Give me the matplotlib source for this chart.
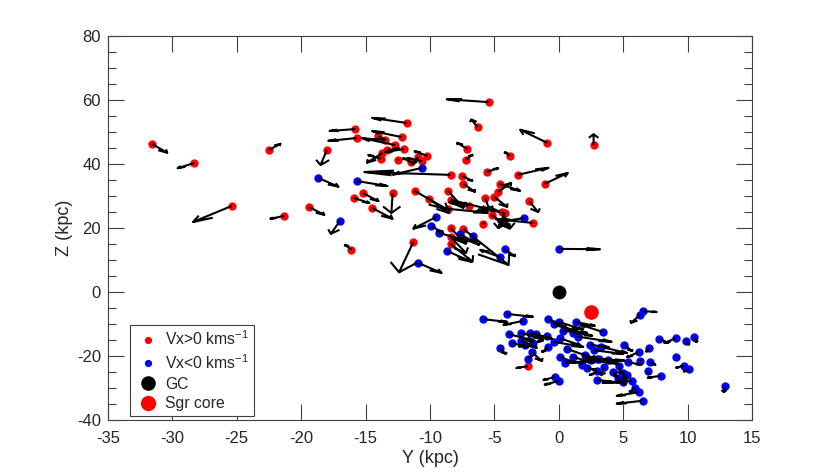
import numpy as np
import matplotlib
matplotlib.use("Agg")
import matplotlib.pyplot as plt
from matplotlib.lines import Line2D

plt.rcParams['font.family'] = ['Liberation Sans', 'DejaVu Sans']
plt.rcParams['mathtext.default'] = 'regular'
plt.rcParams['axes.unicode_minus'] = False

red_y = [-31.6,-28.3,-25.4,-22.5,-21.3,-19.4,-18.0,-16.1,-15.8,-15.7,-15.9,-15.2,-14.5,-12.9,-11.8,-12.2,-14.0,-13.5,-12.7,-12.0,-13.3,-13.7,-13.8,-12.5,-11.5,-10.9,-10.6,-10.2,-8.4,
         -5.4,-6.3,-7.1,-7.2,-3.8,-0.9,2.7,-5.6,-3.2,-1.1,-7.5,-7.4,-4.6,-4.7,-5.0,-5.7,-2.3,-2.0,-4.2,-4.4,-5.2,-5.9,-7.0,-8.6,-8.4,-8.6,-10.1,-11.2,-8.4,-7.4,-8.4,-8.4,-11.3,-2.4]
red_z = [46.2,40.2,26.8,44.3,23.7,26.5,44.3,13.1,50.8,48.0,29.3,30.8,26.2,30.8,52.7,48.3,48.6,47.4,45.8,44.6,44.2,43.3,41.5,41.1,40.5,42.1,40.8,42.4,36.5,
         59.2,51.4,44.6,41.2,42.4,46.5,45.8,37.4,36.5,33.7,36.2,33.7,33.7,31.2,29.6,29.3,28.3,21.5,24.6,25.0,24.0,21.2,26.8,31.5,28.7,25.9,29.0,31.5,19.9,19.6,17.1,15.0,15.5,-23.2]
red_u = [1.2,-1.3,-3.0,0.9,-1.1,1.2,-0.5,-0.5,-2.0,-2.2,1.2,1.2,1.6,-0.1,-2.7,-2.3,0.5,-0.8,-2.6,-1.5,0.9,-1.2,-1.0,0.05,-0.6,-0.5,-1.2,-1.0,-6.7,
         -3.3,-0.5,-0.8,0.5,-0.4,-2.1,0.0,0.9,2.4,1.8,0.8,0.9,1.6,1.0,1.0,0.3,0.7,-2.9,-0.5,0.6,1.4,0.1,-1.5,1.2,3.8,3.1,1.6,2.6,1.2,3.5,1.2,1.7,-1.1,-0.9]
red_v = [-2.8,-1.6,-5.0,1.9,-0.9,-2.5,-4.7,1.6,-0.6,-0.9,-1.6,-2.5,-3.4,-6.2,1.6,1.9,-1.2,0.3,2.2,-1.0,0.6,-3.0,1.2,0.1,1.2,-2.2,0.9,1.5,0.9,
         0.9,2.4,1.9,1.6,1.2,4.1,3.4,1.2,2.2,3.4,-1.6,-2.5,-2.2,2.8,-3.1,-3.7,-3.4,1.2,-4.7,-5.3,-4.1,0.3,1.2,-5.3,-3.7,-1.2,-4.4,-5.9,-4.9,-11.2,-5.0,-5.6,-9.4,-0.6]

blue_y = [-10.6,-18.7,-15.7,-2.7,-9.5,-9.9,-9.3,-8.7,-7.7,-6.7,-4.6,-4.2,0.0,-17.0,-10.9,
          -5.9,-4.0,-2.8,-3.9,-2.9,-2.2,-1.8,-0.9,-3.6,-2.9,-2.6,-2.0,-4.6,-2.1,-2.4,-0.8,-0.4,0.0,1.3,0.3,1.1,0.1,-0.4,-0.8,0.6,0.1,0.5,1.1,1.8,2.2,2.0,-0.3,0.0,
          6.5,6.3,3.4,7.8,9.1,9.9,10.5,5.1,7.0,6.2,3.3,2.7,5.4,6.3,7.1,9.1,9.7,10.1,6.9,7.9,12.9,3.8,3.5,4.7,4.2,5.0,5.3,3.0,5.7,5.0,5.9,6.2,6.5,
          2.1,2.5,3.0,1.5,3.1,3.0,4.6,2.4]
blue_z = [38.7,35.6,34.6,23.0,23.4,20.6,18.4,12.8,18.1,17.4,10.9,13.3,13.4,22.1,9.0,
          -8.5,-6.9,-9.1,-13.2,-12.8,-12.8,-13.2,-13.8,-16.0,-15.3,-16.6,-16.0,-17.5,-18.8,-21.0,-8.5,-10.0,-9.4,-9.4,-12.2,-12.8,-14.5,-15.6,-17.2,-17.8,-20.3,-22.2,-20.3,-22.8,-23.8,-19.7,-26.6,-27.8,
          -6.0,-7.2,-12.5,-14.7,-14.4,-15.3,-14.1,-16.6,-17.5,-18.8,-17.2,-18.2,-21.9,-21.6,-21.9,-20.2,-23.0,-24.0,-24.7,-26.2,-29.4,-21.3,-23.5,-23.1,-25.0,-25.3,-26.0,-27.5,-27.8,-28.1,-30.0,-31.3,-34.0,
          -20.6,-21.4,-20.9,-14.0,-21.0,-24.8,-27.0,-16.5]
blue_u = [-2.3,1.6,2.4,-2.0,-1.8,0.9,2.2,1.9,1.2,0.5,-1.5,0.8,3.2,-0.7,1.8,
          1.9,2.0,-1.5,1.9,1.6,1.7,0.9,-0.7,1.2,1.2,-0.5,-0.5,0.5,0.8,0.3,1.4,1.9,1.9,1.5,1.9,1.5,1.6,2.3,-0.5,2.5,1.2,1.6,1.6,-0.4,0.7,0.8,-0.9,-1.1,
          1.1,-0.7,-1.7,0.7,-0.9,0.2,0.2,0.6,-0.2,-0.9,2.0,2.3,1.0,0.1,0.4,0.05,-0.6,-0.4,0.1,-1.0,-0.1,-2.2,-0.2,0.1,0.3,0.2,-0.3,1.9,-2.3,0.1,-0.4,-1.7,-2.0,
          1.8,2.1,1.9,2.6,2.0,-0.6,0.3,1.5]
blue_v = [-2.1,-2.8,-1.6,-1.2,-3.7,-2.2,-2.5,-3.4,-2.8,-2.8,2.2,-2.2,-0.1,-4.0,-3.1,
          -0.9,-0.9,-1.2,-1.9,-1.9,-1.9,-1.2,-1.9,-1.2,-2.2,-0.5,1.0,-1.9,-2.8,1.0,-2.8,-2.4,-2.4,-1.2,-0.6,-0.9,-2.2,-1.6,-1.6,-3.4,-1.9,0.3,-1.9,1.0,-0.6,-1.0,-0.9,-1.2,
          -0.3,-2.5,2.2,-1.2,-1.6,-1.2,-1.6,-1.9,-1.2,-1.6,-1.9,-1.2,-0.9,0.3,-0.9,-0.1,-0.7,-0.9,-0.9,-0.6,-1.9,-0.6,-2.5,-2.5,-1.6,-2.2,-1.0,-0.9,-0.6,-1.0,-1.2,-1.2,-0.9,
          -1.2,-1.0,-0.6,-1.6,-0.5,-1.2,-1.5,-0.8]

gc_y, gc_z = [0.0], [0.0]
sgr_y, sgr_z = [2.5], [-6.2]

x_ticks = [-35, -30, -25, -20, -15, -10, -5, 0, 5, 10, 15]
y_ticks = [-40, -20, 0, 20, 40, 60, 80]

GRAY = '#404040'


def quiver_segments(y, z, u, v, alpha=0.33, beta=0.33):
    xs, ys = [], []
    for a, b, c, d in zip(y, z, u, v):
        xs += [a, a + c, np.nan]
        ys += [b, b + d, np.nan]
        xs += [a + c - alpha * (c + beta * d), a + c, a + c - alpha * (c - beta * d), np.nan]
        ys += [b + d - alpha * (d - beta * c), b + d, b + d - alpha * (d + beta * c), np.nan]
    return xs, ys


fig = plt.figure(figsize=(8.3, 4.72), dpi=100)
ax = fig.add_axes([108 / 830, 1 - 420 / 472, (752 - 108) / 830, (420 - 35.5) / 472])

ms = 6.0
ax.plot(red_y, red_z, 'o', color='#ff0000', ms=ms, mew=0, zorder=3)
ax.plot(blue_y, blue_z, 'o', color='#0000ff', ms=ms, mew=0, zorder=3)
for arr in [(red_y, red_z, red_u, red_v), (blue_y, blue_z, blue_u, blue_v)]:
    xs, ys = quiver_segments(*arr)
    ax.plot(xs, ys, color='k', lw=1.5, zorder=4, solid_capstyle='butt')
ax.plot(gc_y, gc_z, 'o', color='k', ms=10, mew=0, zorder=5)
ax.plot(sgr_y, sgr_z, 'o', color='#ff0000', ms=10.5, mew=0, zorder=5)

ax.set_xlim(-35, 15)
ax.set_ylim(-40, 80)
ax.set_xticks(x_ticks)
ax.set_yticks(y_ticks)
ax.set_yticks(np.arange(-40, 81, 5), minor=True)
ax.tick_params(which='major', direction='in', length=11.5, width=0.8, color=GRAY,
               labelcolor='#262626', labelsize=12, top=True, right=True)
ax.tick_params(axis='x', which='major', pad=8)
ax.tick_params(axis='y', which='major', pad=5)
ax.tick_params(which='minor', direction='in', length=6, width=0.8, color=GRAY, right=True)
for s in ax.spines.values():
    s.set_color(GRAY)
    s.set_linewidth(0.8)
ax.set_xlabel('Y (kpc)', fontsize=13, color='#262626', labelpad=3)
ax.set_ylabel('Z (kpc)', fontsize=13, color='#262626', labelpad=3)

handles = [
    Line2D([], [], ls='', marker='o', color='#ff0000', ms=5.2, mew=0),
    Line2D([], [], ls='', marker='o', color='#0000ff', ms=5.2, mew=0),
    Line2D([], [], ls='', marker='o', color='k', ms=10.5, mew=0),
    Line2D([], [], ls='', marker='o', color='#ff0000', ms=11, mew=0),
]
labels = ['Vx>0 kms$^{-1}$', 'Vx<0 kms$^{-1}$', 'GC', 'Sgr core']
leg = ax.legend(handles, labels, loc='lower left',
                bbox_to_anchor=(22 / 644, 4 / 384.5), borderaxespad=0,
                fontsize=11.3, fancybox=False, framealpha=1, edgecolor=GRAY,
                labelspacing=0.3, handletextpad=0.2, borderpad=0.3, handlelength=1.75)
leg.get_frame().set_linewidth(0.8)
leg.set_zorder(10)
for t in leg.get_texts():
    t.set_color('#262626')

fig.savefig('out.png', dpi=100)
